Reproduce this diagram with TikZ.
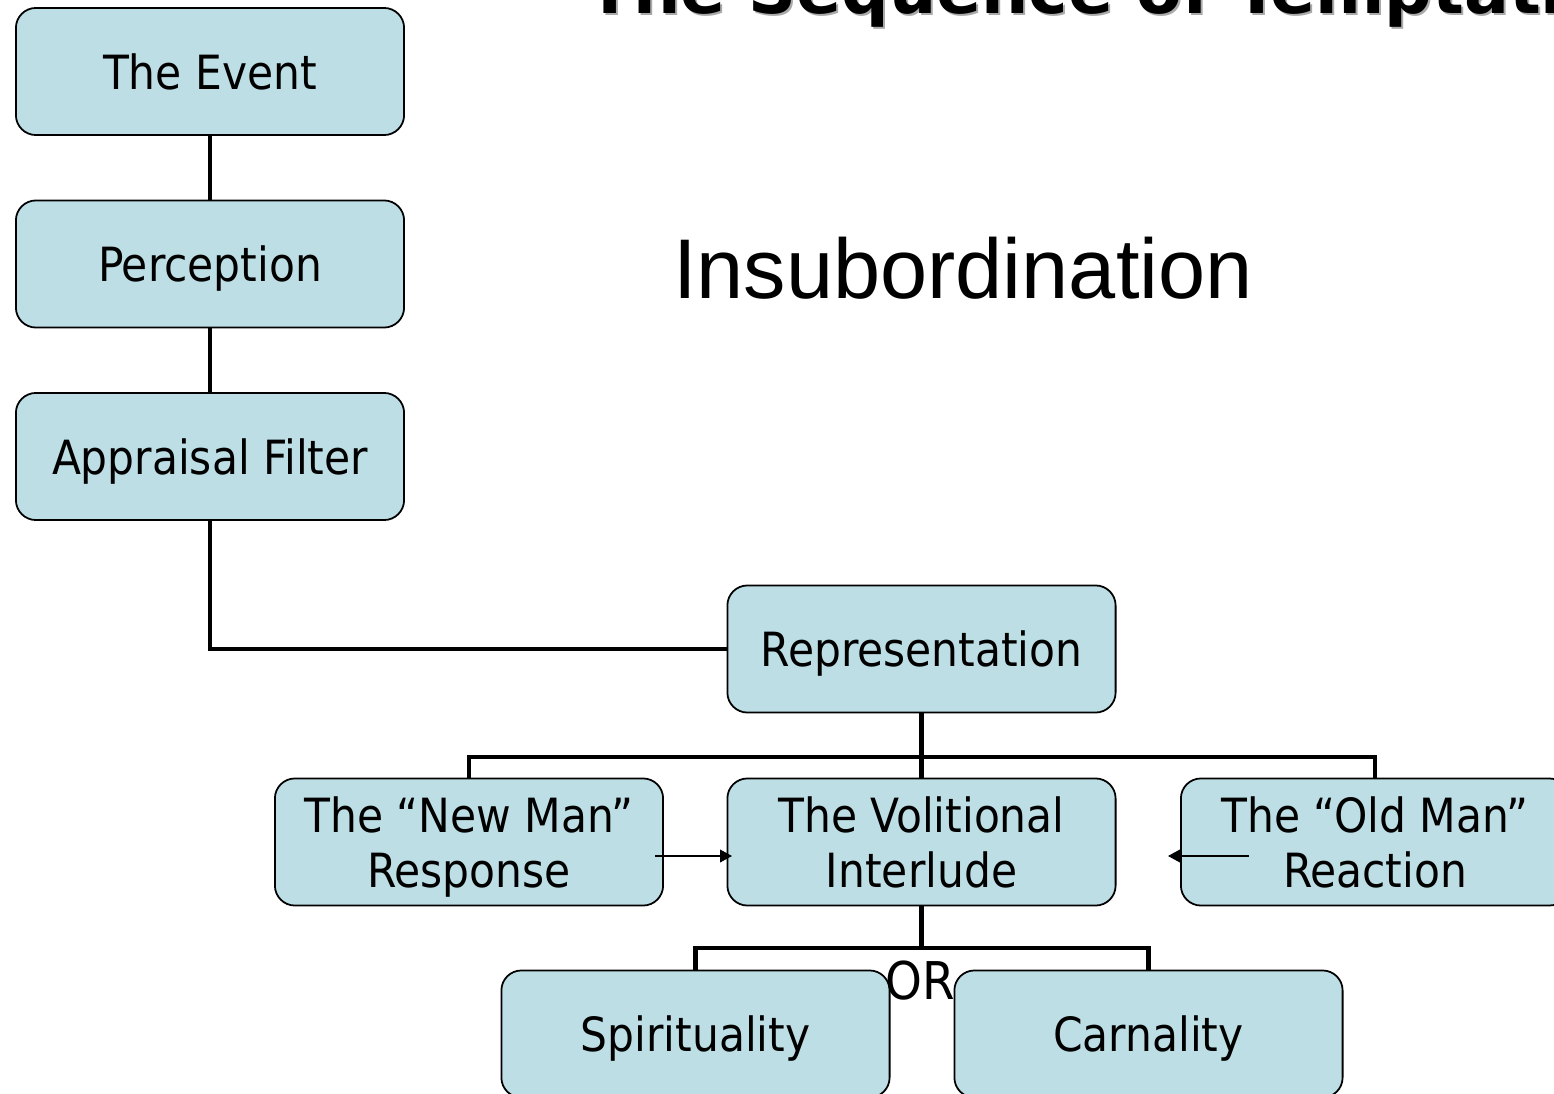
\documentclass[tikz,border=0pt]{standalone}
\usepackage{fontspec}
\setmainfont{DejaVu Sans Condensed}
\newfontfamily\titlefont{DejaVu Sans Bold}
\newfontfamily\arialfont{Liberation Sans}
\usetikzlibrary{arrows.meta}
\definecolor{boxfill}{RGB}{188,222,228}
\definecolor{shadowgray}{RGB}{170,170,170}
\tikzset{
  box/.style={draw=black, line width=0.5pt, fill=boxfill, rounded corners=0.2cm,
    minimum width=3.88cm, minimum height=1.27cm, inner sep=0pt, align=center,
    text depth=0pt, font=\fontsize{13.4}{15.6}\selectfont},
  conn/.style={line width=1.3pt, line join=miter},
  arr/.style={line width=0.45pt, -{Triangle[length=3.4pt,width=3.6pt]}},
}
\begin{document}
\begin{tikzpicture}[x=0.01cm,y=-0.01cm]
\useasboundingbox (0,0) rectangle (1554,1094);
\clip (0,0) rectangle (1554,1094);
% title (cut off at top)
\node[anchor=base west, inner sep=0pt, text=shadowgray, font=\titlefont\fontsize{18.9}{20}\selectfont] (titleshadow) at (589,16) {The Sequence of Temptation};
\node[anchor=base west, inner sep=0pt, font=\titlefont\fontsize{18.9}{20}\selectfont] (title) at (587,14) {The Sequence of Temptation};
\node[anchor=base, inner sep=0pt, font=\arialfont\fontsize{24.1}{28}\selectfont] (insub) at (963,298) {Insubordination};
% boxes
\node[box] (event) at (210,71.5) {The Event};
\node[box] (perc) at (210,264) {Perception};
\node[box] (appr) at (210,456.5) {Appraisal Filter};
\node[box] (rep) at (921.5,649) {Representation};
\node[box] (newman) at (469,842) {The “New Man”\\Response};
\node[box] (vol) at (921.5,842) {The Volitional\\Interlude};
\node[box] (oldman) at (1375,842) {The “Old Man”\\Reaction};
\node[box] (spirit) at (695.5,1034) {Spirituality};
\node[box] (carn) at (1148.5,1034) {Carnality};
% connectors
\draw[conn] (event.south) -- (perc.north);
\draw[conn] (perc.south) -- (appr.north);
\draw[conn] (appr.south) |- (rep.west);
\coordinate (j1) at (921.5,757);
\draw[conn] (rep.south) -- (vol.north);
\draw[conn] (newman.north) |- (j1) -| (oldman.north);
\coordinate (j2) at (921.5,948);
\draw[conn] (vol.south) -- (j2);
\draw[conn] (spirit.north) |- (j2) -| (carn.north);
% thin arrows
\coordinate (a1s) at (655,856);
\coordinate (a1e) at (732,856);
\draw[arr] (a1s) -- (a1e);
\coordinate (a2s) at (1249,856);
\coordinate (a2e) at (1168,856);
\draw[arr] (a2s) -- (a2e);
% OR
\node[inner sep=0pt, font=\fontsize{14.8}{16}\selectfont] (or) at (920,981) {OR};
\end{tikzpicture}
\end{document}
